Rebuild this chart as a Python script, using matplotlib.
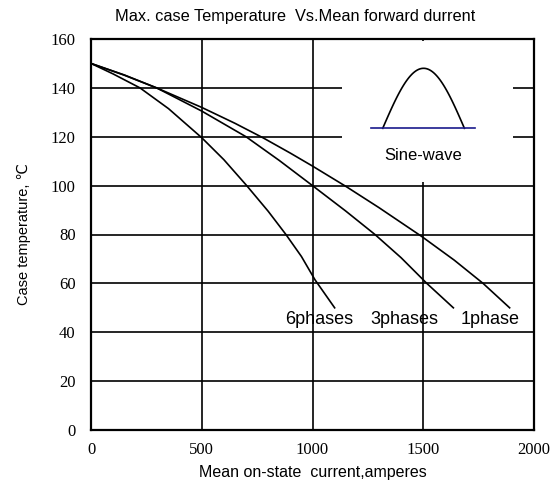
import numpy as np
import matplotlib
matplotlib.use('Agg')
import matplotlib.pyplot as plt

# 数据
x_6ph = [0, 100, 221, 350, 500, 600, 703, 800, 880, 950, 1011, 1100]
y_6ph = [150, 145.7, 140, 131.5, 119.6, 110.6, 100, 89.5, 80, 71, 61.5, 50]
x_3ph = [0, 150, 296, 500, 700, 850, 1000, 1150, 1282, 1400, 1516, 1636]
y_3ph = [150, 145.3, 140, 130.5, 120, 110.3, 100, 89.6, 80, 70.5, 60, 50]
x_1ph = [0, 150, 296, 500, 650, 778, 900, 1000, 1154, 1300, 1493, 1640, 1770, 1890]
y_1ph = [150, 145.2, 140, 132, 125.5, 119.5, 113.3, 108, 99.5, 91, 79.2, 69.5, 60, 50]

labels = ['6phases', '3phases', '1phase']
label_x = [1029, 1414, 1802]
label_y = [45.4, 45.4, 45.4]

xticks = [0, 500, 1000, 1500, 2000]
yticks = [0, 20, 40, 60, 80, 100, 120, 140, 160]

sans = ['Liberation Sans', 'DejaVu Sans']
serif = ['Liberation Serif', 'DejaVu Serif']

fig = plt.figure(figsize=(5.58, 4.96), dpi=100)
ax = fig.add_axes([91/558, 1-430/496, 443/558, 391/496])

ax.set_xlim(0, 2000)
ax.set_ylim(0, 160)
ax.set_xticks(xticks)
ax.set_yticks(yticks)
ax.tick_params(length=0, labelsize=12)
ax.tick_params(axis='y', pad=11)
ax.tick_params(axis='x', pad=9)
for lab in ax.get_xticklabels() + ax.get_yticklabels():
    lab.set_family(serif)
for s in ax.spines.values():
    s.set_linewidth(1.6)
ax.grid(True, color='black', linewidth=1.2)

for xs, ys in [(x_6ph, y_6ph), (x_3ph, y_3ph), (x_1ph, y_1ph)]:
    ax.plot(xs, ys, color='black', linewidth=1.2, zorder=3)

for t, lx, ly in zip(labels, label_x, label_y):
    ax.text(lx, ly, t, ha='center', va='center', fontsize=13, family=sans, zorder=4)

ax.set_xlabel('Mean on-state  current,amperes', fontsize=11.5, family=sans, labelpad=5)
ax.set_ylabel('Case temperature, ℃', fontsize=10.5, family=sans, labelpad=14)
fig.text(295.5/558, 1-16/496, 'Max. case Temperature  Vs.Mean forward durrent',
         ha='center', va='center', fontsize=11.8, family=sans)

# 插图：正弦波
ins = fig.add_axes([342/558, 1-182/496, 171/558, 141/496])
ins.set_facecolor('white')
ins.set_zorder(5)
for s in ins.spines.values():
    s.set_visible(False)
ins.set_xticks([])
ins.set_yticks([])
ins.set_xlim(-1.566, 5.01)
ins.set_ylim(-0.895, 1.455)
t = np.linspace(0, np.pi, 60)
ins.plot(t, np.sin(t), color='black', linewidth=1.2)
ins.plot([-0.45, np.pi + 0.41], [0, 0], color='#1a1a8c', linewidth=1.2)
ins.text(np.pi/2, -0.45, 'Sine-wave', ha='center', va='center', fontsize=12, family=sans)

fig.savefig('out.png', dpi=100)
